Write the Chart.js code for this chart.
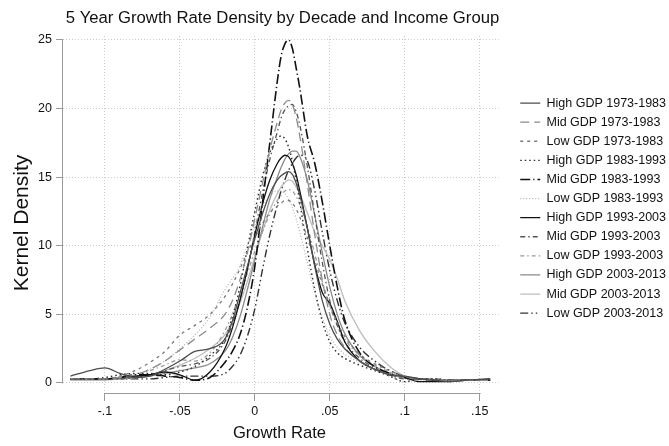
<!DOCTYPE html>
<html>
<head>
<meta charset="utf-8">
<script src="https://cdn.jsdelivr.net/npm/chart.js@4.4.1/dist/chart.umd.min.js"></script>
<style>
  html, body { margin: 0; padding: 0; background: #ffffff; }
  #wrap { width: 669px; height: 446px; }
</style>
</head>
<body>
<div id="wrap"><canvas id="chart" width="669" height="446"></canvas></div>
<script>
// Growth-rate grid shared by every density curve
const growthRate = [-0.123, -0.11, -0.1, -0.09, -0.08, -0.07, -0.06, -0.05, -0.04, -0.03,
  -0.02, -0.015, -0.01, -0.005, 0, 0.005, 0.01, 0.015, 0.0175, 0.02,
  0.0225, 0.025, 0.0275, 0.03, 0.035, 0.04, 0.045, 0.05, 0.055, 0.06,
  0.07, 0.08, 0.09, 0.1, 0.11, 0.12, 0.13, 0.14, 0.157];

// Kernel density estimates, one list per income group and decade
const highGdp7383 = [0.5,0.9,1.1,0.7,0.4,0.5,1.0,1.6,2.3,2.5,3.2,4.5,6.5,8.5,10.5,12.3,13.8,14.8,15.1,15.3,15.4,15.2,14.6,13.7,11.3,8.5,6.0,4.3,3.2,2.5,1.6,1.0,0.6,0.5,0.3,0.2,0.1,0.2,0.3];
const midGdp7383  = [0.3,0.3,0.3,0.4,0.6,1.0,1.6,2.4,3.2,4.0,5.0,6.0,7.5,9.5,12.0,14.5,17.0,19.0,19.9,20.4,20.6,20.3,19.4,18.0,14.5,10.8,7.5,5.0,3.5,2.6,1.6,1.0,0.6,0.4,0.3,0.2,0.2,0.2,0.2];
const lowGdp7383  = [0.3,0.3,0.3,0.5,0.9,1.5,2.3,3.5,4.2,5.0,6.3,7.2,8.3,9.5,10.6,11.6,12.4,12.9,13.1,13.3,13.3,13.1,12.7,12.1,10.6,8.9,7.2,5.7,4.4,3.4,2.1,1.4,0.9,0.5,0.3,0.2,0.2,0.2,0.2];
const highGdp8393 = [0.3,0.3,0.4,0.6,0.7,0.7,0.6,0.8,1.2,2.0,3.2,4.8,7.0,9.8,12.5,15.0,16.8,17.8,18.0,17.8,17.2,16.2,14.8,13.2,9.8,6.8,4.5,3.0,2.2,1.8,1.3,0.9,0.5,0.1,0.3,0.3,0.2,0.2,0.2];
const midGdp8393  = [0.3,0.3,0.3,0.4,0.6,0.6,0.5,0.4,0.2,0.4,1.5,2.3,3.5,5.5,8.5,13.0,17.5,22.0,23.8,24.7,25.0,24.4,23.0,21.5,18.0,16.0,13.2,10.0,7.0,4.6,2.2,1.2,0.7,0.4,0.3,0.2,0.2,0.2,0.2];
const lowGdp8393  = [0.2,0.3,0.3,0.4,0.6,1.0,1.6,2.5,3.5,4.8,6.8,7.6,8.5,10.0,11.5,12.8,13.6,14.0,14.0,13.8,13.4,12.8,12.0,11.0,8.8,6.6,4.8,3.4,2.6,2.1,1.5,1.0,0.5,0.1,0.2,0.2,0.2,0.2,0.2];
const highGdp9303 = [0.3,0.3,0.3,0.4,0.5,0.6,0.8,0.6,0.2,0.8,2.5,4.0,6.0,8.3,10.8,13.0,14.8,16.0,16.4,16.6,16.5,16.0,15.2,14.0,11.3,8.6,6.6,5.8,4.5,3.0,1.6,1.0,0.6,0.4,0.1,0.1,0.1,0.2,0.3];
const midGdp9303  = [0.3,0.3,0.3,0.3,0.4,0.6,0.9,1.2,1.4,1.8,3.0,4.3,6.0,8.3,11.0,13.8,16.3,18.3,19.3,19.9,20.2,20.3,19.8,18.8,15.8,12.2,8.8,6.0,4.2,3.0,1.8,1.1,0.6,0.3,0.3,0.3,0.2,0.2,0.2];
const lowGdp9303  = [0.3,0.3,0.3,0.4,0.6,0.9,1.3,1.7,1.6,2.2,3.8,5.0,6.5,8.0,9.6,11.0,12.3,13.3,13.7,14.0,14.1,14.0,13.6,13.0,11.4,9.4,7.4,5.6,4.2,3.2,2.0,1.3,0.8,0.4,0.3,0.3,0.2,0.2,0.2];
const highGdp0313 = [0.3,0.3,0.3,0.3,0.4,0.5,0.7,0.9,1.1,1.4,2.3,3.3,4.8,6.8,9.0,11.3,13.4,15.0,15.7,16.3,16.7,16.9,16.9,16.5,14.8,12.2,9.5,7.0,5.0,3.6,2.0,1.2,0.7,0.4,0.3,0.2,0.2,0.2,0.2];
const midGdp0313  = [0.2,0.2,0.2,0.3,0.4,0.6,0.9,1.3,1.8,2.5,3.5,4.5,5.8,7.4,9.2,11.0,12.6,13.8,14.3,14.6,14.8,14.7,14.3,13.8,12.4,11.0,10.0,9.0,7.6,6.0,3.8,2.3,1.2,0.5,0.3,0.2,0.2,0.2,0.2];
const lowGdp0313  = [0.3,0.3,0.3,0.3,0.3,0.3,0.4,0.5,0.5,0.5,0.7,1.2,2.0,3.4,5.4,8.2,10.8,13.0,14.0,14.8,15.5,16.0,16.4,16.6,16.2,14.0,11.0,8.2,6.0,4.4,2.6,1.6,0.9,0.5,0.3,0.2,0.2,0.2,0.2];

const seriesNames = ['High GDP 1973-1983', 'Mid GDP 1973-1983', 'Low GDP 1973-1983',
  'High GDP 1983-1993', 'Mid GDP 1983-1993', 'Low GDP 1983-1993',
  'High GDP 1993-2003', 'Mid GDP 1993-2003', 'Low GDP 1993-2003',
  'High GDP 2003-2013', 'Mid GDP 2003-2013', 'Low GDP 2003-2013'];
const seriesValues = [highGdp7383, midGdp7383, lowGdp7383, highGdp8393, midGdp8393, lowGdp8393,
  highGdp9303, midGdp9303, lowGdp9303, highGdp0313, midGdp0313, lowGdp0313];

// Axis ticks and their printed labels
const xTicks = [-0.1, -0.05, 0, 0.05, 0.1, 0.15];
const xTickLabels = ['-.1', '-.05', '0', '.05', '.1', '.15'];
const yTicks = [0, 5, 10, 15, 20, 25];
const yTickLabels = ['0', '5', '10', '15', '20', '25'];

// Monochrome line styles: colour, dash pattern, width
const lineStyles = [
  { color: '#4d4d4d', dash: [],                     width: 1.3 },
  { color: '#8c8c8c', dash: [9, 5],                 width: 1.3 },
  { color: '#7a7a7a', dash: [3, 4],                 width: 1.3 },
  { color: '#2a2a2a', dash: [1.5, 3],               width: 1.4 },
  { color: '#111111', dash: [10, 3, 1.2, 3],        width: 1.6 },
  { color: '#b0b0b0', dash: [1, 2],                 width: 1.2 },
  { color: '#111111', dash: [],                     width: 1.3 },
  { color: '#555555', dash: [5, 3, 1.5, 3],         width: 1.3 },
  { color: '#9a9a9a', dash: [4, 3, 1.5, 3],         width: 1.3 },
  { color: '#8a8a8a', dash: [],                     width: 1.3 },
  { color: '#bdbdbd', dash: [],                     width: 1.3 },
  { color: '#333333', dash: [8, 3, 1.5, 3, 1.5, 3], width: 1.4 }
];

const FONT = '"Liberation Sans", Arial, Helvetica, sans-serif';

const datasets = seriesNames.map((name, i) => ({
  label: name,
  data: growthRate.map((g, k) => ({ x: g, y: seriesValues[i][k] })),
  borderColor: lineStyles[i].color,
  backgroundColor: lineStyles[i].color,
  borderDash: lineStyles[i].dash,
  borderWidth: lineStyles[i].width,
  pointRadius: 0,
  fill: false,
  cubicInterpolationMode: 'monotone'
}));

// Axis lines spanning the tick range, plus chart and axis titles
const framePlugin = {
  id: 'frame',
  afterLayout(chart) {
    const lg = chart.legend;
    lg.top -= 6.4;
    lg.bottom -= 6.4;
  },
  afterDraw(chart) {
    const { ctx, chartArea } = chart;
    const xs = chart.scales.x, ys = chart.scales.y;
    ctx.save();
    ctx.strokeStyle = '#9a9a9a';
    ctx.lineWidth = 1;
    ctx.setLineDash([]);
    ctx.beginPath();
    const axX = chartArea.left - 0.5;
    ctx.moveTo(axX, ys.getPixelForValue(yTicks[0]) + 0.5);
    ctx.lineTo(axX, ys.getPixelForValue(yTicks[yTicks.length - 1]));
    const axY = chartArea.bottom + 0.5;
    ctx.moveTo(xs.getPixelForValue(xTicks[0]), axY);
    ctx.lineTo(xs.getPixelForValue(xTicks[xTicks.length - 1]) + 1, axY);
    ctx.stroke();

    ctx.fillStyle = '#111111';
    ctx.textAlign = 'center';
    ctx.textBaseline = 'middle';
    ctx.font = '16.7px ' + FONT;
    ctx.fillText('5 Year Growth Rate Density by Decade and Income Group', 282.5, 18);
    ctx.font = '16.6px ' + FONT;
    ctx.fillText('Growth Rate', 279.5, 433);
    ctx.translate(22, 223);
    ctx.rotate(-Math.PI / 2);
    ctx.font = '21px ' + FONT;
    ctx.fillText('Kernel Density', 0, 0);
    ctx.restore();
  }
};

const defaultLabels = Chart.defaults.plugins.legend.labels.generateLabels;

new Chart(document.getElementById('chart'), {
  type: 'line',
  data: { datasets },
  options: {
    responsive: false,
    animation: false,
    devicePixelRatio: 1,
    layout: { padding: { top: 36, right: -7, bottom: 0, left: 0 } },
    plugins: {
      title: { display: false },
      tooltip: { enabled: false },
      legend: {
        position: 'right',
        align: 'center',
        fullSize: false,
        maxWidth: 220,
        labels: {
          usePointStyle: true,
          pointStyle: 'line',
          pointStyleWidth: 20,
          padding: 6.6,
          color: '#111111',
          font: { family: FONT, size: 12.5 },
          generateLabels: chart => defaultLabels(chart).map(item => {
            const ds = chart.data.datasets[item.datasetIndex];
            return Object.assign(item, {
              lineDash: ds.borderDash,
              strokeStyle: ds.borderColor,
              lineWidth: ds.borderWidth
            });
          })
        }
      }
    },
    scales: {
      x: {
        type: 'linear',
        min: -0.128,
        max: 0.16267,
        afterBuildTicks: s => { s.ticks = xTicks.map(v => ({ value: v })); },
        afterFit: s => { s.height = 53; },
        grid: { color: '#cccccc', lineWidth: 1, tickLength: 8, tickColor: '#9a9a9a', tickWidth: 1 },
        border: { display: false, dash: [1, 2] },
        ticks: {
          padding: 3, color: '#111111', maxRotation: 0, autoSkip: false,
          font: { family: FONT, size: 12.5 },
          callback: (v, i) => xTickLabels[i]
        }
      },
      y: {
        type: 'linear',
        min: -0.729,
        max: 25.29,
        afterBuildTicks: s => { s.ticks = yTicks.map(v => ({ value: v })); },
        afterFit: s => { s.width = 63; },
        grid: { color: '#cccccc', lineWidth: 1, tickLength: 7, tickColor: '#9a9a9a', tickWidth: 1 },
        border: { display: false, dash: [1, 2] },
        ticks: {
          padding: 4, color: '#111111', autoSkip: false,
          font: { family: FONT, size: 12.5 },
          callback: (v, i) => yTickLabels[i]
        }
      },
      gap: {
        type: 'linear',
        axis: 'y',
        position: 'right',
        display: true,
        afterFit: s => { s.width = 15; },
        grid: { display: false, drawTicks: false },
        border: { display: false },
        ticks: { display: false }
      }
    }
  },
  plugins: [framePlugin]
});
</script>
</body>
</html>
